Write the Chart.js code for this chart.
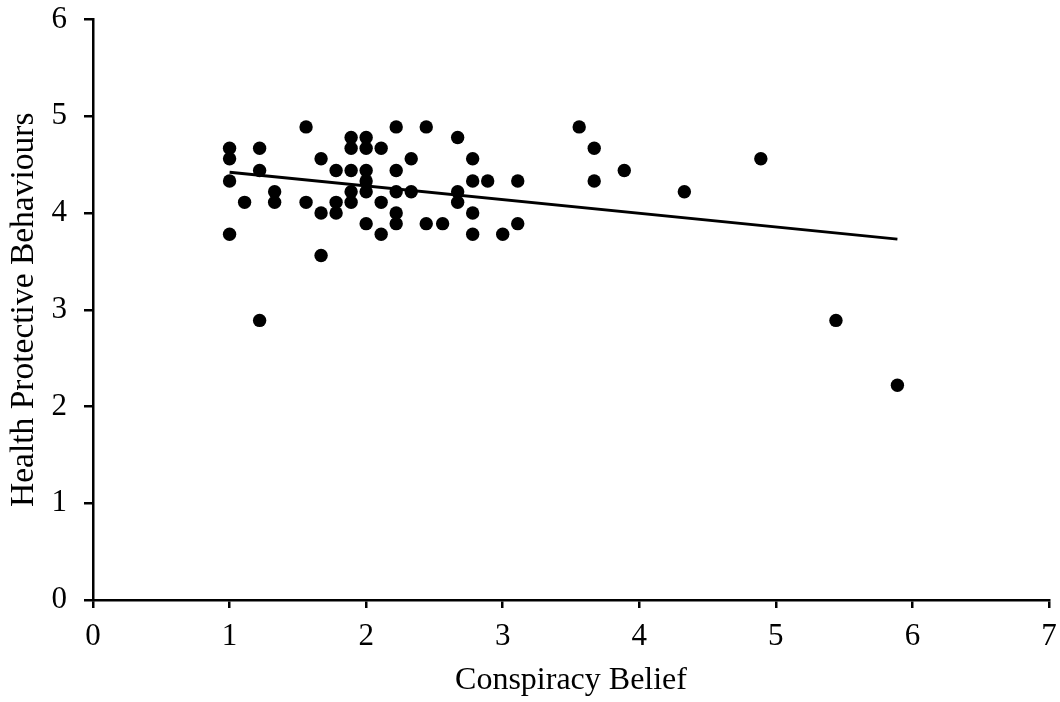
<!DOCTYPE html>
<html>
<head>
<meta charset="utf-8">
<script src="https://cdn.jsdelivr.net/npm/chart.js@4/dist/chart.umd.min.js"></script>
<style>
  html, body { margin: 0; padding: 0; background: #fff; }
  #chart { display: block; }
</style>
</head>
<body>
<canvas id="chart" width="1060" height="702"></canvas>
<script>
"use strict";

// conspiracy belief scores (x) and matching health protective behaviour scores (y)
const beliefX = [
  1, 1, 1, 1,
  1.11,
  1.22, 1.22, 1.22,
  1.33, 1.33,
  1.56, 1.56,
  1.67, 1.67, 1.67,
  1.78, 1.78, 1.78,
  1.89, 1.89, 1.89, 1.89, 1.89,
  2, 2, 2, 2, 2, 2,
  2.11, 2.11, 2.11,
  2.22, 2.22, 2.22, 2.22, 2.22,
  2.33, 2.33,
  2.44, 2.44,
  2.56,
  2.67, 2.67, 2.67,
  2.78, 2.78, 2.78, 2.78,
  2.89,
  3,
  3.11, 3.11,
  3.56,
  3.67, 3.67,
  3.89,
  4.33,
  4.89,
  5.44,
  5.89
];
const behaviourY = [
  4.67, 4.56, 4.33, 3.78,
  4.11,
  4.67, 4.44, 2.89,
  4.22, 4.11,
  4.89, 4.11,
  4.56, 4.0, 3.56,
  4.44, 4.11, 4.0,
  4.78, 4.67, 4.44, 4.22, 4.11,
  4.78, 4.67, 4.44, 4.33, 4.22, 3.89,
  4.67, 4.11, 3.78,
  4.89, 4.44, 4.22, 4.0, 3.89,
  4.56, 4.22,
  4.89, 3.89,
  3.89,
  4.78, 4.22, 4.11,
  4.56, 4.33, 4.0, 3.78,
  4.33,
  3.78,
  4.33, 3.89,
  4.89,
  4.67, 4.33,
  4.44,
  4.22,
  4.56,
  2.89,
  2.22
];

// linear trend line end points
const trendX = [1, 5.89];
const trendY = [4.42, 3.73];

const xTicks = [0, 1, 2, 3, 4, 5, 6, 7];
const yTicks = [0, 1, 2, 3, 4, 5, 6];

const FONT = "'Liberation Serif', 'Times New Roman', serif";

const points = beliefX.map((x, i) => ({ x: x, y: behaviourY[i] }));
const trend = trendX.map((x, i) => ({ x: x, y: trendY[i] }));

function axisStyle(tickLen) {
  return {
    grid: {
      display: true,
      drawOnChartArea: false,
      drawTicks: true,
      tickLength: tickLen,
      color: "#000",
      lineWidth: 2.5
    },
    border: { display: true, color: "#000", width: 2.5 }
  };
}

// keep scale label overflow from pushing the plot area around
function noScalePadding(s) {
  s.paddingTop = 0;
  s.paddingBottom = 0;
  s.paddingLeft = 0;
  s.paddingRight = 0;
}

new Chart(document.getElementById("chart"), {
  type: "scatter",
  data: {
    datasets: [
      {
        label: "points",
        data: points,
        backgroundColor: "#000",
        borderColor: "#000",
        pointRadius: 6.7,
        pointHoverRadius: 6.7,
        borderWidth: 0
      },
      {
        type: "line",
        label: "trend",
        data: trend,
        borderColor: "#000",
        borderWidth: 3,
        pointRadius: 0,
        fill: false
      }
    ]
  },
  options: {
    responsive: false,
    animation: false,
    events: [],
    layout: { padding: { top: 19.5, right: 11, left: 0, bottom: 0 } },
    plugins: { legend: { display: false }, tooltip: { enabled: false } },
    scales: {
      x: Object.assign({
        type: "linear",
        min: 0,
        max: 7,
        afterBuildTicks: s => { s.ticks = xTicks.map(v => ({ value: v })); },
        afterFit: s => { s.height = 102; noScalePadding(s); },
        ticks: { color: "#000", padding: 10, font: { family: FONT, size: 31 } },
        title: {
          display: true,
          text: "Conspiracy Belief",
          color: "#000",
          font: { family: FONT, size: 32 },
          padding: { top: 0, bottom: 2 }
        }
      }, axisStyle(8)),
      y: Object.assign({
        type: "linear",
        min: 0,
        max: 6,
        afterBuildTicks: s => { s.ticks = yTicks.map(v => ({ value: v })); },
        afterFit: s => { s.width = 93; noScalePadding(s); },
        ticks: { color: "#000", padding: 17, font: { family: FONT, size: 31 } },
        title: {
          display: true,
          text: "Health Protective Behaviours",
          color: "#000",
          font: { family: FONT, size: 33.5 },
          padding: { top: 4, bottom: 0 }
        }
      }, axisStyle(9))
    }
  }
});
</script>
</body>
</html>
